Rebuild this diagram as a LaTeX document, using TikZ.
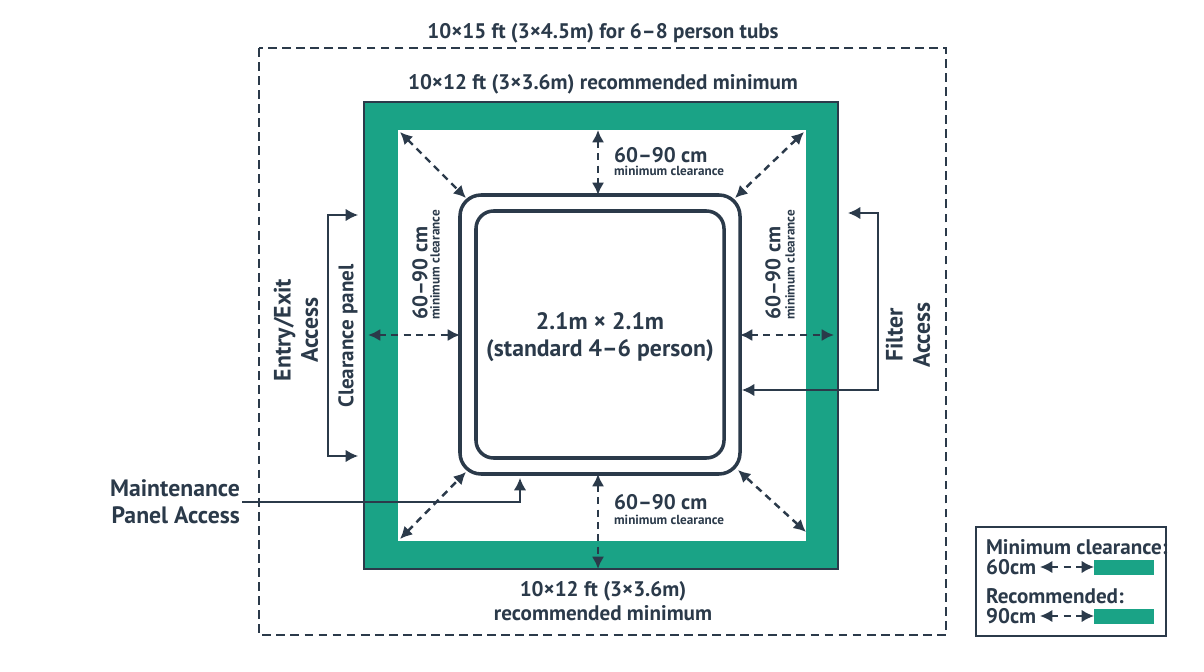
\documentclass[tikz,border=0pt]{standalone}
\usepackage{fontspec}
\setmainfont{PT Sans}
\usetikzlibrary{arrows.meta, positioning}
\definecolor{navy}{HTML}{2B3A4A}
\definecolor{teal}{HTML}{1AA386}
\tikzset{
  lbl/.style = {font=\bfseries\fontsize{12}{14}\selectfont, text=navy, inner sep=1pt, align=center},
  big/.style = {font=\bfseries\fontsize{13.5}{15.5}\selectfont},
  tiny/.style = {font=\bfseries\fontsize{7.5}{8}\selectfont, text=navy, inner sep=1pt},
  clear/.style = {{Latex[length=7pt,width=7pt]}-{Latex[length=7pt,width=7pt]}, dashed, dash pattern=on 4pt off 3pt, line width=1.4pt, navy},
  lead/.style = {-{Latex[length=7pt,width=7pt]}, line width=0.8pt, navy},
}
\begin{document}
\begin{tikzpicture}[x=0.02cm, y=-0.02cm]
    \useasboundingbox (0,0) rectangle (1204,672);
    % outer room
    \draw [navy, line width=1.2pt, dash pattern=on 5pt off 3pt] (259,48) rectangle (946,635);
    \node (title) [lbl] at (603,33) {10×15 ft (3×4.5m) for 6–8 person tubs};
    % recommended band
    \fill [teal] (364,102) rectangle (838,569);
    \fill [white] (398,130) rectangle (806,541);
    \draw [navy, line width=1pt] (364,102) rectangle (838,569);
    \node (rectop) [lbl] at (603,84) {10×12 ft (3×3.6m) recommended minimum};
    \node (recbot) [lbl] at (603,601) {10×12 ft (3×3.6m)\\recommended minimum};
    % tub
    \draw [navy, line width=2pt, rounded corners=12pt] (460,195) rectangle (740,474);
    \draw [navy, line width=2pt, rounded corners=10pt] (476,211) rectangle (724,458);
    \node (tub) [lbl, big] at (600,337) {2.1m × 2.1m\\(standard 4–6 person)};
    % clearance points
    \coordinate (tT) at (598,195);  \coordinate (wT) at (598,130);
    \coordinate (tB) at (598,474);  \coordinate (wB) at (598,569);
    \coordinate (tL) at (460,335);  \coordinate (wL) at (368,335);
    \coordinate (tR) at (740,335);  \coordinate (wR) at (834,335);
    \draw [clear] (wT) -- (tT);
    \draw [clear] (tB) -- (wB);
    \draw [clear] (wL) -- (tL);
    \draw [clear] (tR) -- (wR);
    \draw [clear] (400,132) -- (466,198);
    \draw [clear] (804,132) -- (735,198);
    \draw [clear] (400,539) -- (466,472);
    \draw [clear] (806,532) -- (738,470);
    % clearance labels
    \node (ctop) [lbl, anchor=west] at (612,155) {60–90 cm};
    \node [tiny, anchor=west] at (612,171) {minimum clearance};
    \node (cbot) [lbl, anchor=west] at (612,502) {60–90 cm};
    \node [tiny, anchor=west] at (612,520) {minimum clearance};
    \node (cleft) [lbl, rotate=90, anchor=west] at (420,322) {60–90 cm};
    \node [tiny, rotate=90, anchor=west] at (435,322) {minimum clearance};
    \node (cright) [lbl, rotate=90, anchor=west] at (773,322) {60–90 cm};
    \node [tiny, rotate=90, anchor=west] at (790,322) {minimum clearance};
    % entry / exit
    \coordinate (eTop) at (358,215); \coordinate (eBot) at (358,456);
    \draw [lead] (328,335) |- (eTop);
    \draw [lead] (328,335) |- (eBot);
    \node (entry) [lbl, big, rotate=90] at (296,330) {Entry/Exit\\Access};
    \node (panel) [lbl, rotate=90] at (348,336) {Clearance panel};
    % filter
    \coordinate (fTop) at (848,213); \coordinate (fTub) at (742,390);
    \draw [lead] (878,300) |- (fTop);
    \draw [lead] (878,300) |- (fTub);
    \node (filter) [lbl, big, rotate=90] at (908,335) {Filter\\Access};
    % maintenance
    \node (maint) [lbl, big, align=right, anchor=east] at (242,502) {Maintenance\\Panel Access};
    \coordinate (mTub) at (520,478);
    \draw [lead] (maint.east) -| (mTub);
    % legend
    \draw [navy, line width=1pt, fill=white] (976,527) rectangle (1166,636);
    \node (lmin) [lbl, anchor=west] at (984,547) {Minimum clearance:};
    \node (l60) [lbl, anchor=west] at (984,567) {60cm};
    \node (lrec) [lbl, anchor=west] at (984,596) {Recommended:};
    \node (l90) [lbl, anchor=west] at (984,616) {90cm};
    \fill [teal] (1094,560) rectangle (1154,575);
    \fill [teal] (1094,609) rectangle (1154,624);
    \draw [clear, line width=1pt] (1040,567) -- (1094,567);
    \draw [clear, line width=1pt] (1040,616) -- (1094,616);
\end{tikzpicture}
\end{document}
